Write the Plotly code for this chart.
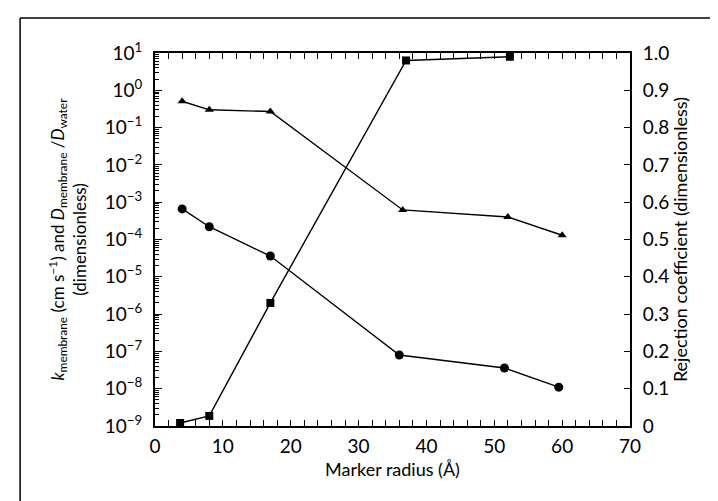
import plotly.graph_objects as go

# Data
tri_x = [4, 8, 17, 36.5, 52, 60]
tri_y = [0.51, 0.30, 0.27, 6.2e-4, 4.0e-4, 1.3e-4]

circ_x = [4, 8, 17, 36, 51.5, 59.5]
circ_y = [6.6e-4, 2.2e-4, 3.6e-5, 8.0e-8, 3.6e-8, 1.1e-8]

sq_x = [3.7, 8, 17, 37, 52.3]
sq_y = [0.008, 0.027, 0.33, 0.98, 0.99]

x_ticks = [0, 10, 20, 30, 40, 50, 60, 70]
left_exps = list(range(-9, 2))
left_tickvals = [10.0 ** e for e in left_exps]
left_ticktext = ["10<sup>%s</sup>" % (str(e).replace("-", "−")) for e in left_exps]
left_minor = [k * 10.0 ** e for e in range(-9, 1) for k in range(2, 10)]
right_tickvals = [0, 0.1, 0.2, 0.3, 0.4, 0.5, 0.6, 0.7, 0.8, 0.9, 1.0]
right_ticktext = ["0", "0.1", "0.2", "0.3", "0.4", "0.5", "0.6", "0.7", "0.8", "0.9", "1.0"]

FONT = "Lato"
TICK = 19
TITLE = 18

fig = go.Figure()

fig.add_trace(go.Scatter(x=tri_x, y=tri_y, mode="lines+markers",
                         line=dict(color="black", width=1.4),
                         marker=dict(symbol="triangle-up", size=8, color="black"),
                         showlegend=False))
fig.add_trace(go.Scatter(x=circ_x, y=circ_y, mode="lines+markers",
                         line=dict(color="black", width=1.4),
                         marker=dict(symbol="circle", size=9, color="black"),
                         showlegend=False))
fig.add_trace(go.Scatter(x=sq_x, y=sq_y, mode="lines+markers", yaxis="y2",
                         line=dict(color="black", width=1.4),
                         marker=dict(symbol="square", size=8, color="black"),
                         showlegend=False))
# invisible trace so the minor-tick log axis is drawn
fig.add_trace(go.Scatter(x=[None], y=[None], yaxis="y3", showlegend=False, hoverinfo="skip"))

fig.update_layout(
    width=718, height=501,
    margin=dict(l=147, r=96, t=45, b=83),
    paper_bgcolor="white", plot_bgcolor="white",
    font=dict(family=FONT, size=TICK, color="black"),
    xaxis=dict(range=[0, 70], tickmode="array", tickvals=x_ticks,
               tickfont=dict(size=TICK),
               ticks="inside", ticklen=6, tickwidth=1.2, tickcolor="black",
               ticklabelstandoff=2,
               showline=True, linecolor="black", linewidth=2, mirror="allticks",
               showgrid=False, zeroline=False,
               minor=dict(ticks="inside", ticklen=4, dtick=2, tickcolor="black", showgrid=False),
               title=dict(text="Marker radius (Å)", font=dict(size=TITLE), standoff=8)),
    yaxis=dict(type="log", range=[-9, 1], tickmode="array",
               tickvals=left_tickvals, ticktext=left_ticktext,
               tickfont=dict(size=TICK),
               ticks="inside", ticklen=7, tickwidth=1.2, tickcolor="black",
               ticklabelstandoff=7,
               showline=True, linecolor="black", linewidth=2,
               showgrid=False, zeroline=False,
               title=dict(text="<i>k</i><sub>membrane</sub> (cm s<sup>−1</sup>) and <i>D</i><sub>membrane</sub> /<i>D</i><sub>water</sub><br>(dimensionless)",
                          font=dict(size=17), standoff=14)),
    yaxis3=dict(overlaying="y", side="left", type="log", range=[-9, 1], tickmode="array",
                tickvals=left_minor, showticklabels=False,
                ticks="inside", ticklen=4, tickwidth=1, tickcolor="black",
                showline=False, showgrid=False, zeroline=False),
    yaxis2=dict(overlaying="y", side="right", range=[0, 1.0], tickmode="array",
                tickvals=right_tickvals, ticktext=right_ticktext,
                tickfont=dict(size=TICK),
                ticks="inside", ticklen=6, tickwidth=1.2, tickcolor="black",
                ticklabelstandoff=7,
                showline=True, linecolor="black", linewidth=2,
                showgrid=False, zeroline=False,
                title=dict(text="Rejection coefficient (dimensionless)", font=dict(size=TITLE), standoff=0)),
    shapes=[
        dict(type="line", xref="paper", yref="paper", x0=-0.284, x1=1.3, y0=1.094, y1=1.094,
             line=dict(color="black", width=1.5)),
        dict(type="line", xref="paper", yref="paper", x0=-0.284, x1=-0.284, y0=-0.3, y1=1.094,
             line=dict(color="black", width=1.5)),
    ],
)

fig.write_html("out.html")
